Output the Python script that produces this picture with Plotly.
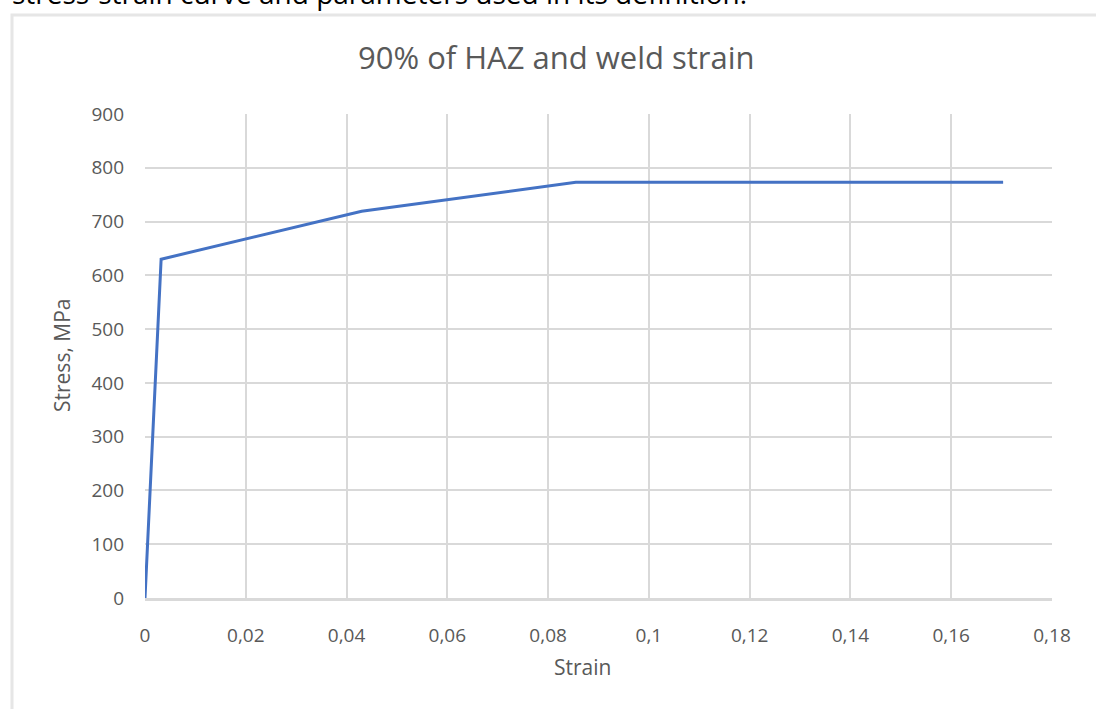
import plotly.graph_objects as go

# Stress-strain curve: 90% of HAZ and weld strain
strain = [0.0, 0.0032, 0.043, 0.0855, 0.1703]
stress = [0, 630, 719, 773, 773]

x_ticks = [0, 0.02, 0.04, 0.06, 0.08, 0.10, 0.12, 0.14, 0.16, 0.18]
x_tick_labels = ["0", "0,02", "0,04", "0,06", "0,08", "0,1", "0,12", "0,14", "0,16", "0,18"]
y_ticks = [0, 100, 200, 300, 400, 500, 600, 700, 800, 900]

W, H = 1096, 709
L, R, T, B = 145, 44, 114, 111
pw, ph = W - L - R, H - T - B


def px_x(px):
    return (px - L) / pw


def px_y(py):
    return (H - B - py) / ph


grey_txt = "#595959"
grid = "#d9d9d9"
font = "Open Sans"

fig = go.Figure()
fig.add_trace(go.Scatter(
    x=strain, y=stress, mode="lines",
    line=dict(color="#4472C4", width=3),
    showlegend=False, hoverinfo="skip",
))

fig.update_layout(
    width=W, height=H,
    margin=dict(l=L, r=R, t=T, b=B),
    paper_bgcolor="white", plot_bgcolor="white",
    font=dict(family=font, color=grey_txt),
    xaxis=dict(
        range=[0, 0.18], tickvals=x_ticks, ticktext=x_tick_labels,
        showgrid=True, gridcolor=grid, gridwidth=1.5,
        showline=True, linecolor=grid, linewidth=2.5,
        zeroline=False, ticks="", ticklen=0,
        ticklabelstandoff=18,
        tickfont=dict(size=19, color=grey_txt),
    ),
    yaxis=dict(
        range=[0, 900], tickvals=y_ticks,
        showgrid=True, gridcolor=grid, gridwidth=1.5,
        showline=False, zeroline=False, ticks="",
        ticklabelstandoff=20,
        tickfont=dict(size=19, color=grey_txt),
    ),
    shapes=[dict(
        type="rect", xref="paper", yref="paper",
        x0=px_x(12), x1=px_x(1110), y0=px_y(15), y1=px_y(730),
        line=dict(color="#e6e6e6", width=3), fillcolor="rgba(0,0,0,0)",
        layer="below",
    )],
    annotations=[
        dict(text="90% of HAZ and weld strain", xref="paper", yref="paper",
             x=px_x(556), y=px_y(57), xanchor="center", yanchor="middle",
             showarrow=False, font=dict(size=31, color=grey_txt, family=font)),
        dict(text="Strain", xref="paper", yref="paper",
             x=px_x(582), y=px_y(667), xanchor="center", yanchor="middle",
             showarrow=False, font=dict(size=21, color=grey_txt, family=font)),
        dict(text="Stress, MPa", xref="paper", yref="paper",
             x=px_x(62), y=px_y(356), xanchor="center", yanchor="middle",
             textangle=-90, showarrow=False,
             font=dict(size=21, color=grey_txt, family=font)),
        dict(text="stress-strain curve and parameters used in its definition.",
             xref="paper", yref="paper", x=px_x(10), y=px_y(14),
             xanchor="left", yanchor="bottom", showarrow=False,
             font=dict(size=28, color="black", family=font)),
    ],
)

fig.write_html("out.html")
